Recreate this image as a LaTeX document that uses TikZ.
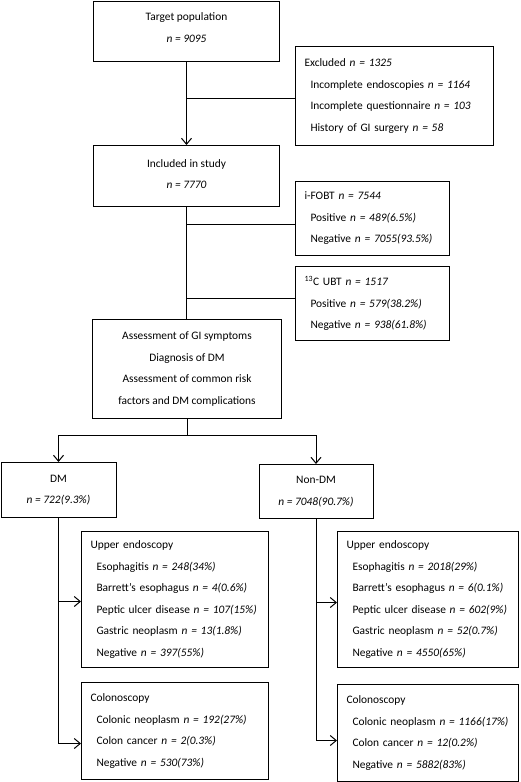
\documentclass[tikz,border=0pt]{standalone}
\usepackage{fontspec}
\setmainfont{Carlito}
\usetikzlibrary{arrows.meta,calc}

\tikzset{
  box/.style={draw, line width=1pt, anchor=north west, inner sep=0pt,
    font=\fontsize{11.4}{21.5}\selectfont},
  cbox/.style={box, align=center},
  lbox/.style={box, align=left, inner xsep=9pt},
  link/.style={line width=1pt},
  arr/.style={link, -{Straight Barb[length=6pt,width=10pt]}}
}
\newcommand{\nv}[1]{\textit{n = #1}}
\newcommand{\ind}{\hspace*{6pt}}

\begin{document}
\begin{tikzpicture}[x=1pt, y=-1pt]
  \useasboundingbox (0,0) rectangle (520,782);

  % main column
  \node[cbox, minimum width=186pt, minimum height=60pt, text depth=8pt] (target) at (93,1)
    {Target population\\ \nv{9095}};
  \node[cbox, minimum width=186pt, minimum height=61pt, text depth=4pt] (incl) at (93,145)
    {Included in study\\ \nv{7770}};
  \node[cbox, minimum width=189pt, minimum height=99pt] (assess) at (92,319)
    {Assessment of GI symptoms\\ Diagnosis of DM\\ Assessment of common risk\\ factors and DM complications};

  % side boxes
  \node[lbox, text width=180pt, minimum height=99pt] (excl) at (295,46)
    {Excluded \nv{1325}\\
     \ind Incomplete endoscopies \nv{1164}\\
     \ind Incomplete questionnaire \nv{103}\\
     \ind History of GI surgery \nv{58}};
  \node[lbox, text width=136pt, minimum height=74pt] (fobt) at (295,181)
    {i-FOBT \nv{7544}\\
     \ind Positive \nv{489(6.5\%)}\\
     \ind Negative \nv{7055(93.5\%)}};
  \node[lbox, text width=136pt, minimum height=74pt] (ubt) at (295,266)
    {\textsuperscript{13}C UBT \nv{1517}\\
     \ind Positive \nv{579(38.2\%)}\\
     \ind Negative \nv{938(61.8\%)}};

  % groups
  \node[cbox, minimum width=115pt, minimum height=55pt] (dm) at (0.5,462)
    {DM\\ \nv{722(9.3\%)}};
  \node[cbox, minimum width=114pt, minimum height=54pt] (nondm) at (258.5,464)
    {Non-DM\\ \nv{7048(90.7\%)}};

  % results DM
  \node[lbox, text width=169pt, minimum height=136pt] (upL) at (81,531)
    {Upper endoscopy\\
     \ind Esophagitis \nv{248(34\%)}\\
     \ind Barrett’s esophagus \nv{4(0.6\%)}\\
     \ind Peptic ulcer disease \nv{107(15\%)}\\
     \ind Gastric neoplasm \nv{13(1.8\%)}\\
     \ind Negative \nv{397(55\%)}};
  \node[lbox, text width=169pt, minimum height=97pt] (colL) at (81,682)
    {Colonoscopy\\
     \ind Colonic neoplasm \nv{192(27\%)}\\
     \ind Colon cancer \nv{2(0.3\%)}\\
     \ind Negative \nv{530(73\%)}};

  % results Non-DM
  \node[lbox, text width=163pt, minimum height=136pt] (upR) at (337,531)
    {Upper endoscopy\\
     \ind Esophagitis \nv{2018(29\%)}\\
     \ind Barrett’s esophagus \nv{6(0.1\%)}\\
     \ind Peptic ulcer disease \nv{602(9\%)}\\
     \ind Gastric neoplasm \nv{52(0.7\%)}\\
     \ind Negative \nv{4550(65\%)}};
  \node[lbox, text width=163pt, minimum height=97pt] (colR) at (337,684)
    {Colonoscopy\\
     \ind Colonic neoplasm \nv{1166(17\%)}\\
     \ind Colon cancer \nv{12(0.2\%)}\\
     \ind Negative \nv{5882(83\%)}};

  % connectors
  \draw[arr] (target.south) -- (incl.north);
  \coordinate (j1) at ($(excl.west)+(0,2.5)$);
  \draw[link] (j1) -- (j1 -| target.south);

  \draw[link] (incl.south) -- (incl.south |- assess.north);
  \coordinate (j2) at ($(fobt.west)+(0,6)$);
  \draw[link] (j2) -- (j2 -| incl.south);
  \coordinate (j3) at ($(ubt.west)+(0,-5)$);
  \draw[link] (j3) -- (j3 -| incl.south);

  \coordinate (split) at ($(assess.south)+(0,16)$);
  \draw[link] (assess.south) -- (split);
  \draw[arr] (split) -| (dm.north);
  \draw[arr] (split) -| (nondm.north);

  \draw[arr] (dm.south) |- ($(colL.west)+(0,12.5)$);
  \draw[arr] ($(dm.south |- upL.west)+(0,2)$) -- ($(upL.west)+(0,2)$);
  \draw[arr] (nondm.south) |- ($(colR.west)+(0,7.5)$);
  \draw[arr] ($(nondm.south |- upR.west)+(0,3)$) -- ($(upR.west)+(0,3)$);
\end{tikzpicture}
\end{document}
